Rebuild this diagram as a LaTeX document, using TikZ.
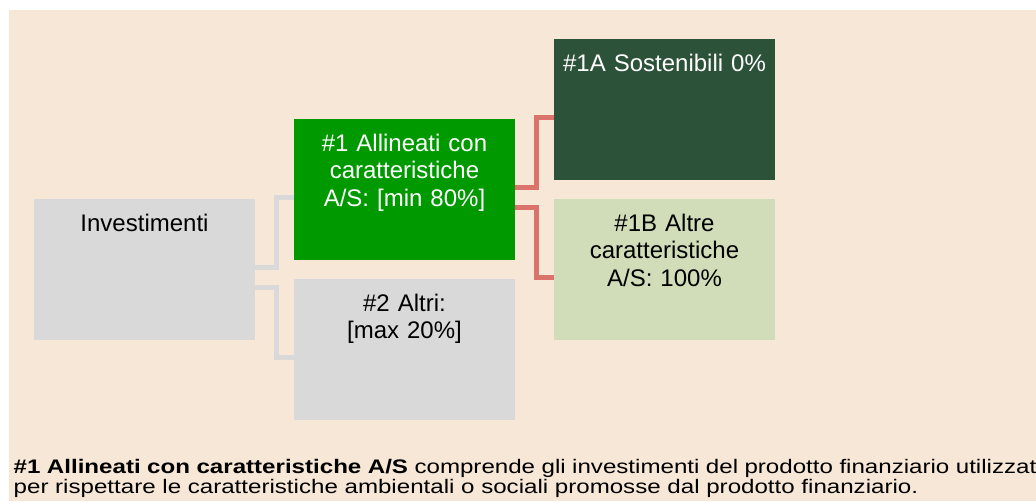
\documentclass[tikz,border=0pt]{standalone}
\usepackage{fontspec}
\setmainfont{Liberation Sans}
\newfontfamily\notafont[FakeStretch=1.23]{Liberation Sans}
\definecolor{beige}{RGB}{247,231,214}
\definecolor{verde}{RGB}{0,153,0}
\definecolor{verdescuro}{RGB}{44,82,57}
\definecolor{verdechiaro}{RGB}{208,221,184}
\definecolor{grigio}{RGB}{217,217,217}
\definecolor{rosso}{RGB}{217,115,108}
\begin{document}
\begin{tikzpicture}[x=1pt, y=-1pt,
      box/.style={rectangle, minimum width=221pt, text width=221pt, align=center, inner xsep=0pt, inner ysep=0pt, text height=32pt, text depth=109pt, font=\fontsize{24}{27.6}\selectfont},
      ramo/.style={line width=5pt, line join=miter}]
            \useasboundingbox (0,0) rectangle (1036,501);
            \clip (0,0) rectangle (1036,501);
            \fill[beige] (9,10) rectangle (1036,501);
            % caselle
            \node[box, fill=grigio] (inv) at (144.5, 269.5) {Investimenti};
            \node[box, fill=verde, text=white] (al1) at (404.5, 189.5) {\#1 Allineati con\\caratteristiche\\A/S: [min 80\%]};
            \node[box, fill=grigio] (al2) at (404.5, 349.5) {\#2 Altri:\\{}[max 20\%]};
            \node[box, fill=verdescuro, text=white] (al1a) at (664.5, 109.5) {\#1A Sostenibili 0\%};
            \node[box, fill=verdechiaro] (al1b) at (664.5, 269.5) {\#1B Altre\\caratteristiche\\A/S: 100\%};
            % rami
            \draw[ramo, grigio] ([yshift=2pt]inv.east) -- ++(21.5,0) |- ([yshift=-8pt]al1.west);
            \draw[ramo, grigio] ([yshift=-18pt]inv.east) -- ++(21.5,0) |- ([yshift=-8pt]al2.west);
            \draw[ramo, rosso] ([yshift=2pt]al1.east) -- ++(21.5,0) |- ([yshift=-8pt]al1a.west);
            \draw[ramo, rosso] ([yshift=-18pt]al1.east) -- ++(21.5,0) |- ([yshift=-8pt]al1b.west);
            % nota
            \node[anchor=base west, text width=1028pt, align=justify, inner sep=0pt, font=\notafont\fontsize{19.6}{20.5}\selectfont] (nota) at (13.5, 473)
                  {\tolerance=9999 \textbf{\#1 Allineati con caratteristiche A/S} comprende gli investimenti del prodotto finanziario utilizzati\linebreak per rispettare le caratteristiche ambientali o sociali promosse dal prodotto finanziario.};
\end{tikzpicture}
\end{document}
